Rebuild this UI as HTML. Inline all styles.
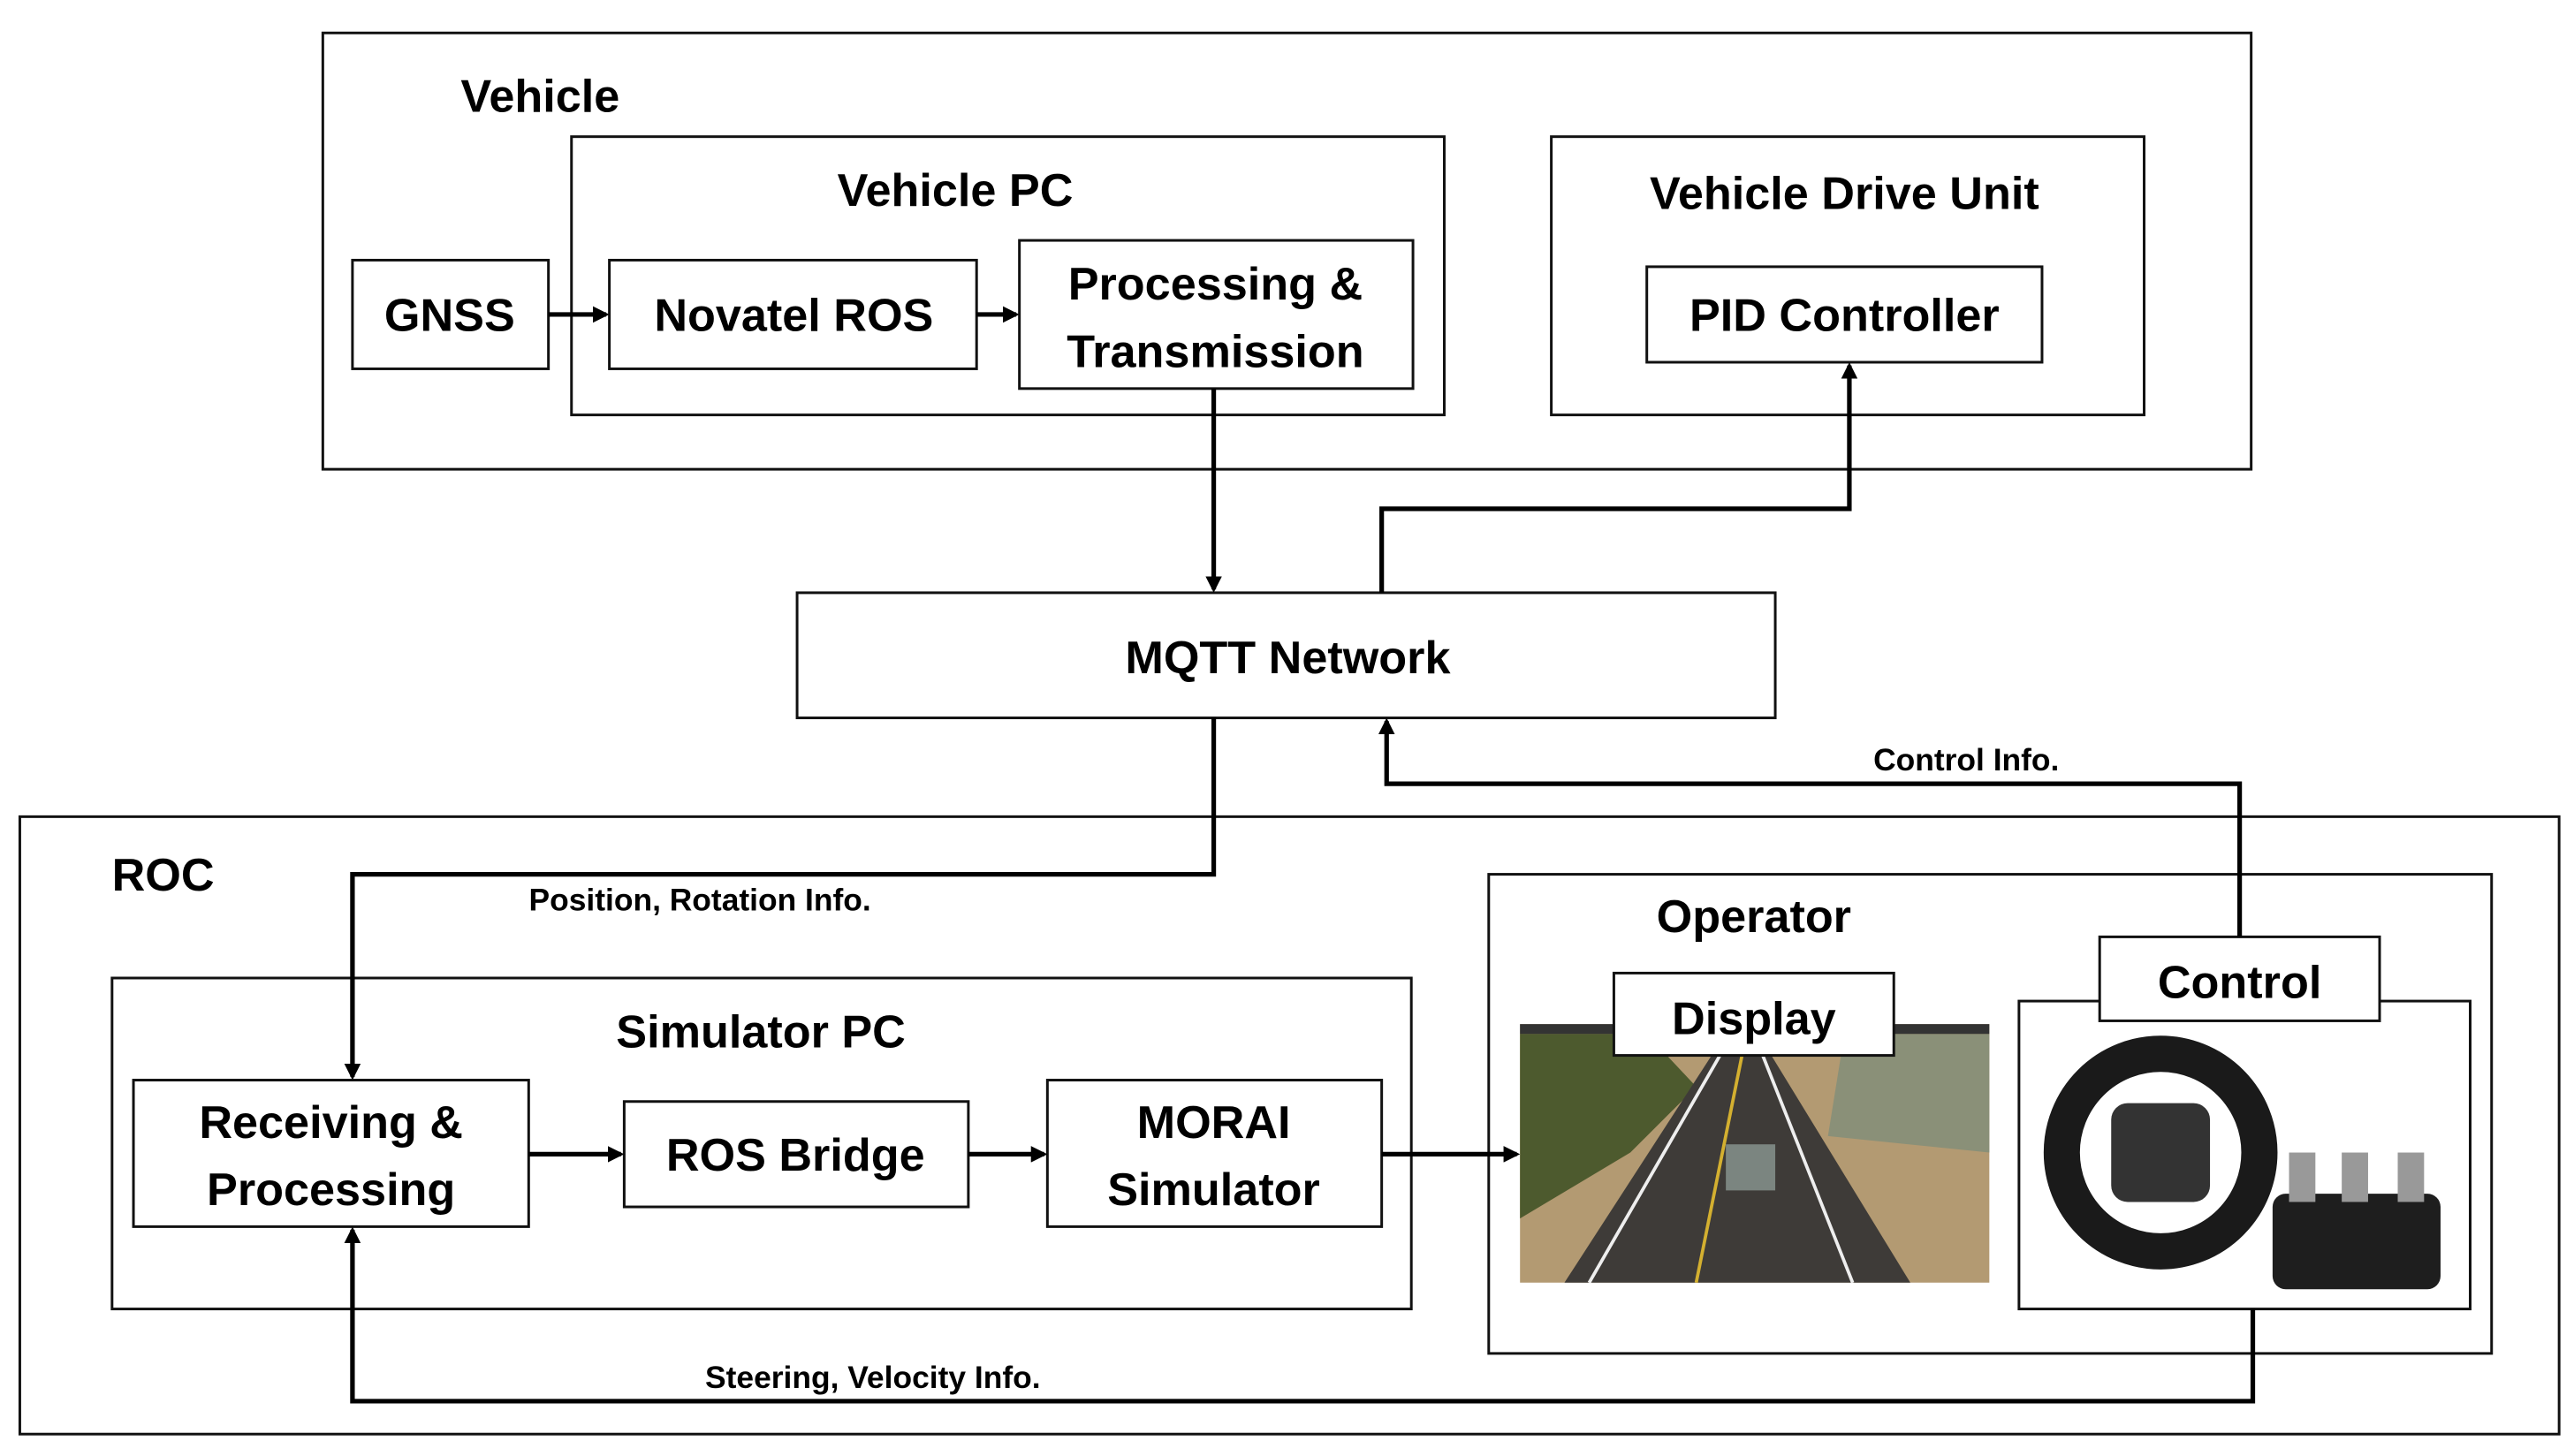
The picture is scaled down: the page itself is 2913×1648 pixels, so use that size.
<!DOCTYPE html>
<html><head><meta charset="utf-8"><style>
html,body{margin:0;padding:0;background:#fff}
svg{display:block}
text{font-family:"Liberation Sans",sans-serif;font-weight:bold;fill:#000}
.b{font-size:28px}
.s{font-size:19px}
</style></head><body>
<svg width="2913" height="1648" viewBox="0 0 1563 884.3" xmlns="http://www.w3.org/2000/svg">
<defs>
<marker id="a" markerWidth="10" markerHeight="10" refX="8" refY="5" orient="auto" markerUnits="userSpaceOnUse">
<path d="M0,0 L10,5 L0,10 z" fill="#000"/></marker>
</defs>
<g fill="none" stroke="#111" stroke-width="1.6">
<rect x="196" y="20" width="1171" height="265"/>
<rect x="347" y="83" width="530" height="169"/>
<rect x="214" y="158" width="119" height="66"/>
<rect x="370" y="158" width="223" height="66"/>
<rect x="619" y="146" width="239" height="90"/>
<rect x="942" y="83" width="360" height="169"/>
<rect x="1000" y="162" width="240" height="58"/>
<rect x="484" y="360" width="594" height="76"/>
<rect x="12" y="496" width="1542" height="375"/>
<rect x="68" y="594" width="789" height="201"/>
<rect x="81" y="656" width="240" height="89"/>
<rect x="379" y="669" width="209" height="64"/>
<rect x="636" y="656" width="203" height="89"/>
<rect x="904" y="531" width="609" height="291"/>
<rect x="1226" y="608" width="274" height="187"/>
</g>
<!-- screenshot -->
<rect x="923" y="622" width="285" height="157" fill="#b39a72"/>
<rect x="923" y="622" width="285" height="6" fill="#333"/>
<polygon points="923,628 1000,628 1030,660 990,700 923,740" fill="#4d5a2e"/>
<polygon points="1120,628 1208,628 1208,700 1110,690" fill="#8a9078"/>
<polygon points="1040,640 1075,640 1160,779 950,779" fill="#3e3b38"/>
<line x1="1045" y1="640" x2="965" y2="779" stroke="#eee" stroke-width="2"/>
<line x1="1058" y1="640" x2="1030" y2="779" stroke="#d4b030" stroke-width="2"/>
<line x1="1070" y1="640" x2="1125" y2="779" stroke="#eee" stroke-width="2"/>
<rect x="1048" y="695" width="30" height="28" fill="#7b8580"/>
<!-- wheel -->
<circle cx="1312" cy="700" r="60" fill="none" stroke="#1a1a1a" stroke-width="22"/>
<rect x="1282" y="670" width="60" height="60" rx="10" fill="#333"/>
<rect x="1380" y="725" width="102" height="58" rx="8" fill="#1e1e1e"/>
<rect x="1390" y="700" width="16" height="30" fill="#999"/>
<rect x="1422" y="700" width="16" height="30" fill="#999"/>
<rect x="1456" y="700" width="16" height="30" fill="#999"/>
<!-- label boxes on top -->
<rect x="980" y="591" width="170" height="50" fill="#fff" stroke="#111" stroke-width="1.6"/>
<rect x="1275" y="569" width="170" height="51" fill="#fff" stroke="#111" stroke-width="1.6"/>
<!-- connectors -->
<g fill="none" stroke="#000" stroke-width="2.8">
<line x1="333" y1="191" x2="368" y2="191" marker-end="url(#a)"/>
<line x1="593" y1="191" x2="617" y2="191" marker-end="url(#a)"/>
<line x1="737" y1="236" x2="737" y2="358" marker-end="url(#a)"/>
<polyline points="839,360 839,309 1123,309 1123,222" marker-end="url(#a)"/>
<polyline points="1360,569 1360,476 842,476 842,438" marker-end="url(#a)"/>
<polyline points="737,436 737,531 214,531 214,654" marker-end="url(#a)"/>
<line x1="321" y1="701" x2="377" y2="701" marker-end="url(#a)"/>
<line x1="588" y1="701" x2="634" y2="701" marker-end="url(#a)"/>
<line x1="839" y1="701" x2="921" y2="701" marker-end="url(#a)"/>
<polyline points="1368,795 1368,851 214,851 214,747" marker-end="url(#a)"/>
</g>
<!-- text -->
<text class="b" x="328" y="68" text-anchor="middle">Vehicle</text>
<text class="b" x="580" y="125" text-anchor="middle">Vehicle PC</text>
<text class="b" x="273" y="201" text-anchor="middle">GNSS</text>
<text class="b" x="482" y="201" text-anchor="middle">Novatel ROS</text>
<text class="b" x="738" y="182" text-anchor="middle">Processing &amp;</text>
<text class="b" x="738" y="223" text-anchor="middle">Transmission</text>
<text class="b" x="1120" y="127" text-anchor="middle">Vehicle Drive Unit</text>
<text class="b" x="1120" y="201" text-anchor="middle">PID Controller</text>
<text class="b" x="782" y="409" text-anchor="middle">MQTT Network</text>
<text class="s" x="1194" y="468" text-anchor="middle">Control Info.</text>
<text class="b" x="99" y="541" text-anchor="middle">ROC</text>
<text class="s" x="425" y="553" text-anchor="middle">Position, Rotation Info.</text>
<text class="b" x="462" y="636" text-anchor="middle">Simulator PC</text>
<text class="b" x="201" y="691" text-anchor="middle">Receiving &amp;</text>
<text class="b" x="201" y="732" text-anchor="middle">Processing</text>
<text class="b" x="483" y="711" text-anchor="middle">ROS Bridge</text>
<text class="b" x="737" y="691" text-anchor="middle">MORAI</text>
<text class="b" x="737" y="732" text-anchor="middle">Simulator</text>
<text class="b" x="1065" y="566" text-anchor="middle">Operator</text>
<text class="b" x="1065" y="628" text-anchor="middle">Display</text>
<text class="b" x="1360" y="606" text-anchor="middle">Control</text>
<text class="s" x="530" y="843" text-anchor="middle">Steering, Velocity Info.</text>
</svg>
</body></html>
